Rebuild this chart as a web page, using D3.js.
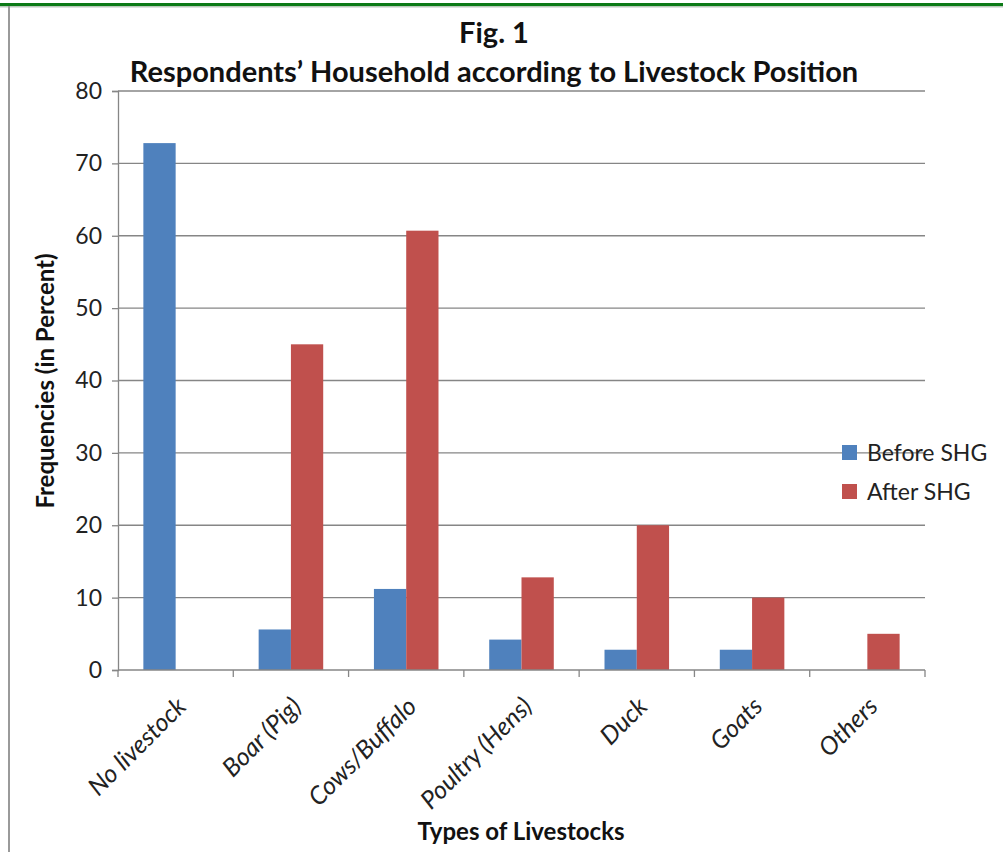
<!DOCTYPE html>
<html>
<head>
<meta charset="utf-8">
<script src="https://cdn.jsdelivr.net/npm/d3@7"></script>
<style>
  html, body { margin: 0; padding: 0; background: #fff; }
  svg { display: block; font-family: Lato, "Open Sans", sans-serif; }
</style>
</head>
<body>
<svg id="chart" width="1003" height="852"></svg>
<script>
// Livestock holdings of respondent households, before and after joining an SHG
const categories = ["No livestock", "Boar (Pig)", "Cows/Buffalo", "Poultry (Hens)", "Duck", "Goats", "Others"];
const seriesNames = ["Before SHG", "After SHG"];
const beforeSHG = [72.8, 5.6, 11.2, 4.2, 2.8, 2.8, 0];
const afterSHG = [0, 45, 60.7, 12.8, 20, 10, 5];
const yTicks = [0, 10, 20, 30, 40, 50, 60, 70, 80];
const seriesColors = ["#4f81bd", "#c0504d"];

const svg = d3.select("#chart");
const axisColor = "#868686";

// Page frame: green rule along the top, grey rule down the left side
svg.append("rect").attr("x", 0).attr("y", 3).attr("width", 1003).attr("height", 3).attr("fill", "#0b7a16");
svg.append("rect").attr("x", 0).attr("y", 6).attr("width", 1003).attr("height", 1.5).attr("fill", "#b9c9bb");
svg.append("rect").attr("x", 8).attr("y", 6).attr("width", 2).attr("height", 846).attr("fill", "#9a9a9a");

const plot = { left: 118, right: 925, top: 91, bottom: 670 };

const x = d3.scaleBand().domain(categories).range([plot.left, plot.right]).paddingInner(0).paddingOuter(0);
const y = d3.scaleLinear().domain([0, 80]).range([plot.bottom, plot.top]);

const groupFrac = 0.56;
const xs = d3.scaleBand().domain(seriesNames)
  .range([0, x.bandwidth() * groupFrac]);

// Horizontal gridlines
svg.append("g")
  .selectAll("line")
  .data(yTicks.filter(d => d > 0))
  .join("line")
  .attr("x1", plot.left).attr("x2", plot.right)
  .attr("y1", d => y(d)).attr("y2", d => y(d))
  .attr("stroke", axisColor).attr("stroke-width", 1.3);

// Bars
const rows = categories.map((c, i) => ({ c, vals: [beforeSHG[i], afterSHG[i]] }));
const groupOffset = x.bandwidth() * (1 - groupFrac) / 2;
svg.append("g")
  .selectAll("g")
  .data(rows)
  .join("g")
  .attr("transform", d => `translate(${x(d.c) + groupOffset},0)`)
  .selectAll("rect")
  .data(d => d.vals.map((v, k) => ({ v, s: seriesNames[k], k })))
  .join("rect")
  .attr("x", d => xs(d.s))
  .attr("width", xs.bandwidth())
  .attr("y", d => y(d.v))
  .attr("height", d => y(0) - y(d.v))
  .attr("fill", d => seriesColors[d.k]);

// Y axis
const yAxis = svg.append("g")
  .attr("transform", `translate(${plot.left},0)`)
  .call(d3.axisLeft(y).tickValues(yTicks).tickSize(6).tickPadding(10));
yAxis.select(".domain").attr("stroke", axisColor).attr("stroke-width", 1.3);
yAxis.selectAll(".tick line").attr("stroke", axisColor).attr("stroke-width", 1.3);
yAxis.selectAll(".tick text")
  .attr("font-size", 23).attr("fill", "#222").attr("font-family", "Lato, sans-serif");

// X axis: ticks at category boundaries
const xAxis = svg.append("g")
  .attr("transform", `translate(0,${plot.bottom})`);
xAxis.append("line")
  .attr("x1", plot.left).attr("x2", plot.right)
  .attr("stroke", axisColor).attr("stroke-width", 1.3);
const bounds = categories.map(c => x(c)).concat([plot.right]);
xAxis.selectAll("line.tk")
  .data(bounds)
  .join("line").attr("class", "tk")
  .attr("x1", d => d).attr("x2", d => d)
  .attr("y1", 0).attr("y2", 7)
  .attr("stroke", axisColor).attr("stroke-width", 1.3);

// Category labels, slanted
svg.append("g")
  .selectAll("text")
  .data(categories)
  .join("text")
  .attr("transform", d => `translate(${x(d) + x.bandwidth() / 2 + 12},${plot.bottom + 38}) rotate(-45)`)
  .attr("text-anchor", "end")
  .attr("font-size", 25)
  .attr("font-style", "italic")
  .attr("fill", "#222")
  .text(d => d);

// Titles
svg.append("text")
  .attr("x", 494).attr("y", 43)
  .attr("text-anchor", "middle")
  .attr("font-size", 29).attr("font-weight", "bold").attr("fill", "#111")
  .text("Fig. 1");
svg.append("text")
  .attr("x", 494).attr("y", 82)
  .attr("text-anchor", "middle")
  .attr("font-size", 29).attr("font-weight", "bold").attr("fill", "#111")
  .text("Respondents\u2019 Household according to Livestock Position");

// Axis titles
svg.append("text")
  .attr("transform", `translate(54,381) rotate(-90)`)
  .attr("text-anchor", "middle")
  .attr("font-size", 24).attr("font-weight", "bold").attr("fill", "#111")
  .text("Frequencies (in Percent)");
svg.append("text")
  .attr("x", 521).attr("y", 840)
  .attr("text-anchor", "middle")
  .attr("font-size", 24).attr("font-weight", "bold").attr("fill", "#111")
  .text("Types of Livestocks");

// Legend
const legend = svg.append("g").attr("transform", "translate(842,445)");
seriesNames.forEach((name, i) => {
  const g = legend.append("g").attr("transform", `translate(0,${i * 39})`);
  g.append("rect").attr("width", 15).attr("height", 15).attr("fill", seriesColors[i]);
  g.append("text").attr("x", 25).attr("y", 16)
    .attr("font-size", 23).attr("fill", "#222").text(name);
});
</script>
</body>
</html>
